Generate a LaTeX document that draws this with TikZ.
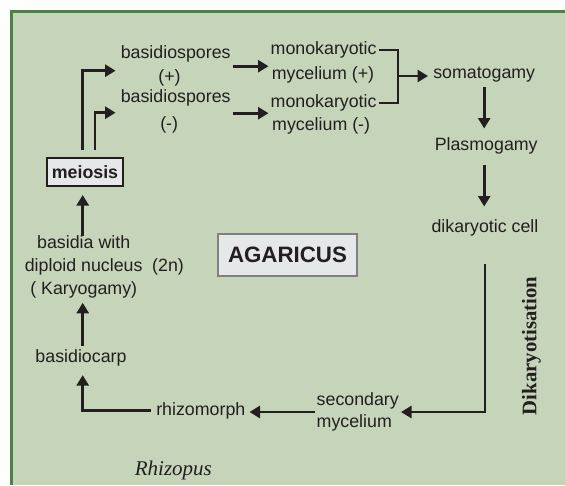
\documentclass[tikz,border=0pt]{standalone}
\usepackage{fontspec}
\setsansfont{Liberation Sans}
\newfontfamily\serifface{Liberation Serif}
\usetikzlibrary{arrows.meta}
\definecolor{panelfill}{HTML}{C6D4B9}
\definecolor{panelborder}{HTML}{4E8147}
\definecolor{ink}{HTML}{231F20}
\definecolor{boxfill}{HTML}{E6E7E9}
\definecolor{boxgray}{HTML}{7F8082}
\begin{document}
\begin{tikzpicture}[x=1pt,y=-1pt,
  txt/.style={font=\sffamily\fontsize{17.8}{24}\selectfont, text=ink, inner sep=2pt, align=center},
  arr/.style={draw=ink, line width=2.8pt, -{Triangle[length=10.5pt,width=12pt]}},
  plainline/.style={draw=ink, line width=2.2pt},
  boxed/.style={draw=ink, line width=2pt, fill=boxfill, inner sep=0pt, text=ink},
]
\useasboundingbox (0,0) rectangle (565,485);
\fill[panelfill] (10,10) rectangle (565,485);
\draw[panelborder, line width=3pt] (11.5,485) -- (11.5,11.5) -- (565,11.5);

% nodes
\node[boxed, minimum width=76pt, minimum height=28pt,
      font=\sffamily\bfseries\fontsize{17.8}{20}\selectfont] (meiosis) at (85,172) {meiosis};
\node[boxed, draw=boxgray, line width=2.3pt, minimum width=139pt, minimum height=42pt,
      font=\sffamily\bfseries\fontsize{22.3}{26}\selectfont] (agaricus) at (287.5,255) {AGARICUS};

\node[txt] (bpA) at (175.7,66.2) {basidiospores\\(+)\hspace*{12.4pt}};
\node[txt] (bpB) at (175.7,111.7) {basidiospores\\[2.7pt](-)\hspace*{13pt}};

\node[txt, anchor=west] (monoA1) at (268.5,50) {monokaryotic};
\node[txt, anchor=west] (monoA2) at (269.6,74.5) {mycelium (+)};
\node[txt, anchor=west] (monoB1) at (268.5,102.7) {monokaryotic};
\node[txt, anchor=west] (monoB2) at (270,126) {mycelium (-)};
\coordinate (brk) at (398.3,76);

\node[txt] (soma) at (484.2,75) {somatogamy};
\node[txt] (plasmo) at (486.2,146) {Plasmogamy};
\node[txt] (dik) at (485,228) {dikaryotic cell};

\node[txt, align=left, anchor=west, font=\sffamily\fontsize{17.8}{21.6}\selectfont] (sec) at (314.5,412) {secondary\\mycelium};
\node[txt] (rhizo) at (200.8,410.7) {rhizomorph};
\node[txt] (carp) at (81,358) {basidiocarp};
\node[txt, font=\sffamily\fontsize{17.8}{23}\selectfont] (basidia) at (83.7,267)
  {basidia with\\diploid nucleus\rlap{\hspace{9.7pt}(2n)}\\( Karyogamy)};

\node[font=\serifface\bfseries\fontsize{20.7}{24}\selectfont, text=ink, rotate=90] (dkt) at (531.5,346) {Dikaryotisation};
\node[font=\serifface\itshape\fontsize{21}{24}\selectfont, text=ink] (rhz) at (173.4,470) {Rhizopus};

% connectors
\draw[arr, shorten >=3pt] ([xshift=-2.3pt,yshift=7pt]meiosis.north) |- ([yshift=-4.5pt]bpA.west);
\draw[arr, shorten >=3pt] ([xshift=10pt,yshift=7pt]meiosis.north) |- ([yshift=-1pt]bpB.west);
\draw[arr] (bpA.east) -- (bpA.east -| monoA1.west);
\draw[arr] ([yshift=-1.5pt]bpB.east) -- ([yshift=-1.5pt]bpB.east -| monoB1.west);
\draw[plainline] (monoA1.east) -| (brk) |- (monoB1.east);
\draw[arr, shorten >=3pt] (brk) -- (brk -| soma.west);
\draw[arr, shorten <=2.5pt, shorten >=7pt] (soma.south) -- (soma.south |- plasmo.north);
\draw[arr, shorten <=8.5pt, shorten >=11pt] (soma.south |- plasmo.south) -- (soma.south |- dik.north);
\draw[arr] ([yshift=-25pt]dik.south) |- (sec.east);
\draw[arr, shorten >=2pt] (sec.west) -- (sec.west -| rhizo.east);
\draw[arr, shorten >=6.6pt] ([xshift=-3pt]rhizo.west) -| ([xshift=1.7pt]carp.south);
\draw[arr, shorten >=2.3pt] ([yshift=2pt,xshift=1.7pt]carp.north) -- ([xshift=-1pt]basidia.south);
\draw[arr, shorten >=8pt] ([xshift=-1pt,yshift=-2pt]basidia.north) -- ([xshift=-2.3pt]meiosis.south);
\end{tikzpicture}
\end{document}
